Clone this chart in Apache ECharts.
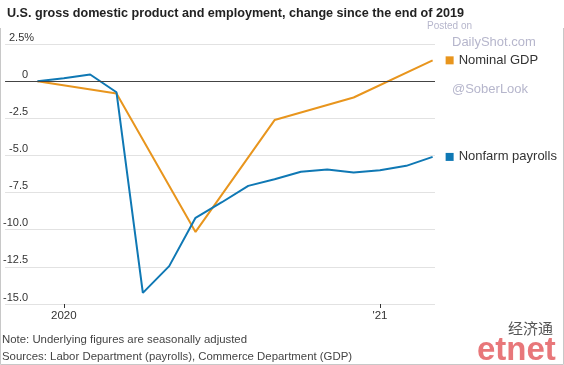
<!DOCTYPE html>
<html><head><meta charset="utf-8">
<script src="https://cdn.jsdelivr.net/npm/echarts@6/dist/echarts.min.js"></script>
<style>html,body{margin:0;padding:0;background:#fff}#c{width:564px;height:365px}</style>
</head><body><div id="c"></div>
<script>
// months since Jan 2020 (Dec 2019 = -1)
const payrollMonths = [-1,0,1,2,3,4,5,6,7,8,9,10,11,12,13,14];
const payrollValues = [0,0.2,0.45,-0.75,-14.25,-12.45,-9.2,-8.15,-7.05,-6.6,-6.1,-5.95,-6.15,-6.0,-5.7,-5.1];
const gdpMonths = [-1,2,5,8,11,14];
const gdpValues = [0,-0.83,-10.15,-2.62,-1.1,1.4];
const xTickValues = [0,12];
const xTickLabels = ['2020',"'21"];

const FONT = '"Liberation Sans",Arial,sans-serif';
const BLUE = '#0f78b4', ORANGE = '#e8951d';

const chart = echarts.init(document.getElementById('c'), null, {renderer:'canvas'});
chart.setOption({
  animation:false,
  textStyle:{fontFamily:FONT},
  title:{text:'U.S. gross domestic product and employment, change since the end of 2019',
    left:2, top:2, textStyle:{fontFamily:FONT,fontWeight:'bold',fontSize:12.6,color:'#222'}},
  grid:{left:1,right:129,top:44,bottom:61},
  xAxis:{type:'value',min:-2.23,max:14.09,
    axisLine:{show:false,onZero:false},
    splitLine:{show:false},
    axisTick:{show:true,customValues:xTickValues,length:4,lineStyle:{color:'#333'}},
    axisLabel:{show:true,customValues:xTickValues,margin:6,fontSize:11.5,color:'#333',fontFamily:FONT,
      formatter:v=>xTickLabels[xTickValues.indexOf(v)]}
  },
  yAxis:{type:'value',min:-15,max:2.5,interval:2.5,
    axisLine:{show:false},axisTick:{show:false},
    splitLine:{show:true,lineStyle:{color:'#e2e2e2',width:1}},
    axisLabel:{inside:true,align:'right',verticalAlign:'bottom',margin:29,fontSize:11,color:'#333',
      fontFamily:FONT,padding:[0,0,1,0],
      formatter:v=>{ if(v===2.5) return '2.5%'; const s=(v===0)?'0':v.toFixed(1); return s+'{p| }'; },
      rich:{p:{width:6}}}
  },
  series:[
    {type:'line',name:'Nominal GDP',data:gdpMonths.map((m,i)=>[m,gdpValues[i]]),
     symbol:'none',lineStyle:{color:ORANGE,width:2},itemStyle:{color:ORANGE},
     endLabel:{show:true,distance:13,formatter:'{s|}{t|Nominal GDP}',
       rich:{s:{width:8,height:8,backgroundColor:ORANGE},t:{fontSize:13,color:'#333',padding:[0,0,0,5],fontFamily:FONT}}},
     markLine:{silent:true,symbol:'none',label:{show:false},lineStyle:{color:'#444',width:1.2,type:'solid'},data:[{yAxis:0}]},
     z:3},
    {type:'line',name:'Nonfarm payrolls',data:payrollMonths.map((m,i)=>[m,payrollValues[i]]),
     symbol:'none',lineStyle:{color:BLUE,width:2},itemStyle:{color:BLUE},
     endLabel:{show:true,distance:13,formatter:'{s|}{t|Nonfarm payrolls}',
       rich:{s:{width:8,height:8,backgroundColor:BLUE},t:{fontSize:13,color:'#333',padding:[0,0,0,5],fontFamily:FONT}}},
     z:4}
  ],
  graphic:[
    {type:'text',left:427,top:21,style:{text:'Posted on',fontSize:10,fill:'#b6b6cc',fontFamily:FONT}},
    {type:'text',left:452,top:36,style:{text:'DailyShot.com',fontSize:13,fill:'#b6b6cc',fontFamily:FONT}},
    {type:'text',left:452,top:83,style:{text:'@SoberLook',fontSize:13,fill:'#b6b6cc',fontFamily:FONT}},
    {type:'text',left:2,top:334,style:{text:'Note: Underlying figures are seasonally adjusted',fontSize:11.4,fill:'#444',fontFamily:FONT}},
    {type:'text',left:2,top:351,style:{text:'Sources: Labor Department (payrolls), Commerce Department (GDP)',fontSize:11.4,fill:'#444',fontFamily:FONT}},
    {type:'text',left:508,top:321,style:{text:'经济通',fontSize:15,fill:'#555',fontFamily:'"Noto Sans CJK SC",sans-serif'}},
    {type:'text',left:477,top:334,style:{text:'etnet',fontSize:33,fontWeight:'bold',fill:'#e8777a',fontFamily:FONT}},
    {type:'line',shape:{x1:0.5,y1:28,x2:0.5,y2:364.5},style:{stroke:'#c8c8c8',lineWidth:1}},
    {type:'line',shape:{x1:0.5,y1:364.5,x2:563.5,y2:364.5},style:{stroke:'#c8c8c8',lineWidth:1}},
    {type:'line',shape:{x1:563.5,y1:28,x2:563.5,y2:364.5},style:{stroke:'#c8c8c8',lineWidth:1}}
  ]
});
</script></body></html>
